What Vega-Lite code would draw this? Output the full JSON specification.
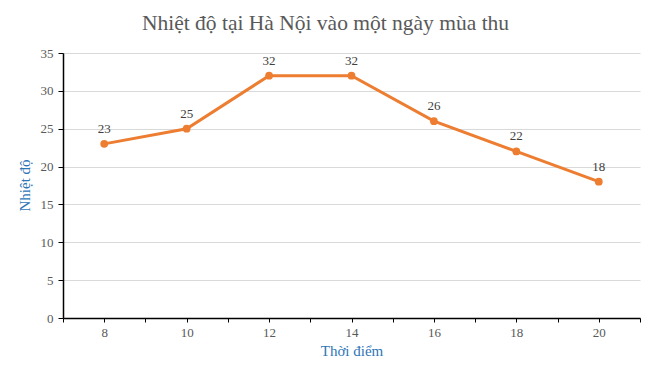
{
  "$schema": "https://vega.github.io/schema/vega-lite/v6.json",
  "width": 577,
  "height": 265,
  "autosize": {"type": "none"},
  "padding": {"left": 63, "top": 53, "right": 10, "bottom": 56},
  "background": "white",
  "title": {
    "text": "Nhiệt độ tại Hà Nội vào một ngày  mùa thu",
    "font": "Liberation Serif",
    "fontSize": 21.5,
    "fontWeight": "normal",
    "color": "#595959",
    "anchor": "middle",
    "dx": -26,
    "offset": 13
  },
  "config": {
    "view": {"stroke": null},
    "font": "Liberation Serif",
    "text": {"font": "Liberation Serif"},
    "axis": {
      "labelFont": "Liberation Serif",
      "labelFontSize": 13,
      "labelColor": "#595959",
      "titleFont": "Liberation Serif",
      "titleFontSize": 15,
      "titleFontWeight": "normal",
      "titleColor": "#2E75B6",
      "domainColor": "#000000",
      "domainWidth": 1.5,
      "tickColor": "#000000",
      "tickSize": 5
    }
  },
  "data": {
    "values": [
      {"t": 8, "v": 23},
      {"t": 10, "v": 25},
      {"t": 12, "v": 32},
      {"t": 14, "v": 32},
      {"t": 16, "v": 26},
      {"t": 18, "v": 22},
      {"t": 20, "v": 18}
    ]
  },
  "encoding": {
    "x": {
      "field": "t",
      "type": "quantitative",
      "scale": {"domain": [7, 21], "nice": false, "zero": false},
      "axis": {
        "title": "Thời điểm",
        "values": [7, 8, 9, 10, 11, 12, 13, 14, 15, 16, 17, 18, 19, 20, 21],
        "labelExpr": "datum.value % 2 == 0 ? datum.label : ''",
        "labelFont": "Liberation Serif",
        "labelFlush": false,
        "labelOverlap": false,
        "labelPadding": 4,
        "tickSize": 4,
        "grid": false,
        "titlePadding": 4
      }
    },
    "y": {
      "field": "v",
      "type": "quantitative",
      "scale": {"domain": [0, 35]},
      "axis": {
        "title": "Nhiệt độ",
        "values": [0, 5, 10, 15, 20, 25, 30, 35],
        "labelFont": "Liberation Serif",
        "grid": true,
        "gridColor": "#D9D9D9",
        "gridWidth": 1,
        "labelPadding": 5,
        "titleX": -39,
        "titleY": 132,
        "titleAngle": -90,
        "titleAlign": "center",
        "titleBaseline": "middle"
      }
    }
  },
  "layer": [
    {
      "mark": {"type": "line", "color": "#ED7D31", "strokeWidth": 3, "point": {"filled": true, "size": 60, "color": "#ED7D31"}}
    },
    {
      "mark": {"type": "text", "dy": -15, "fontSize": 13, "color": "#404040", "font": "Liberation Serif"},
      "encoding": {"text": {"field": "v", "type": "quantitative"}}
    }
  ]
}
